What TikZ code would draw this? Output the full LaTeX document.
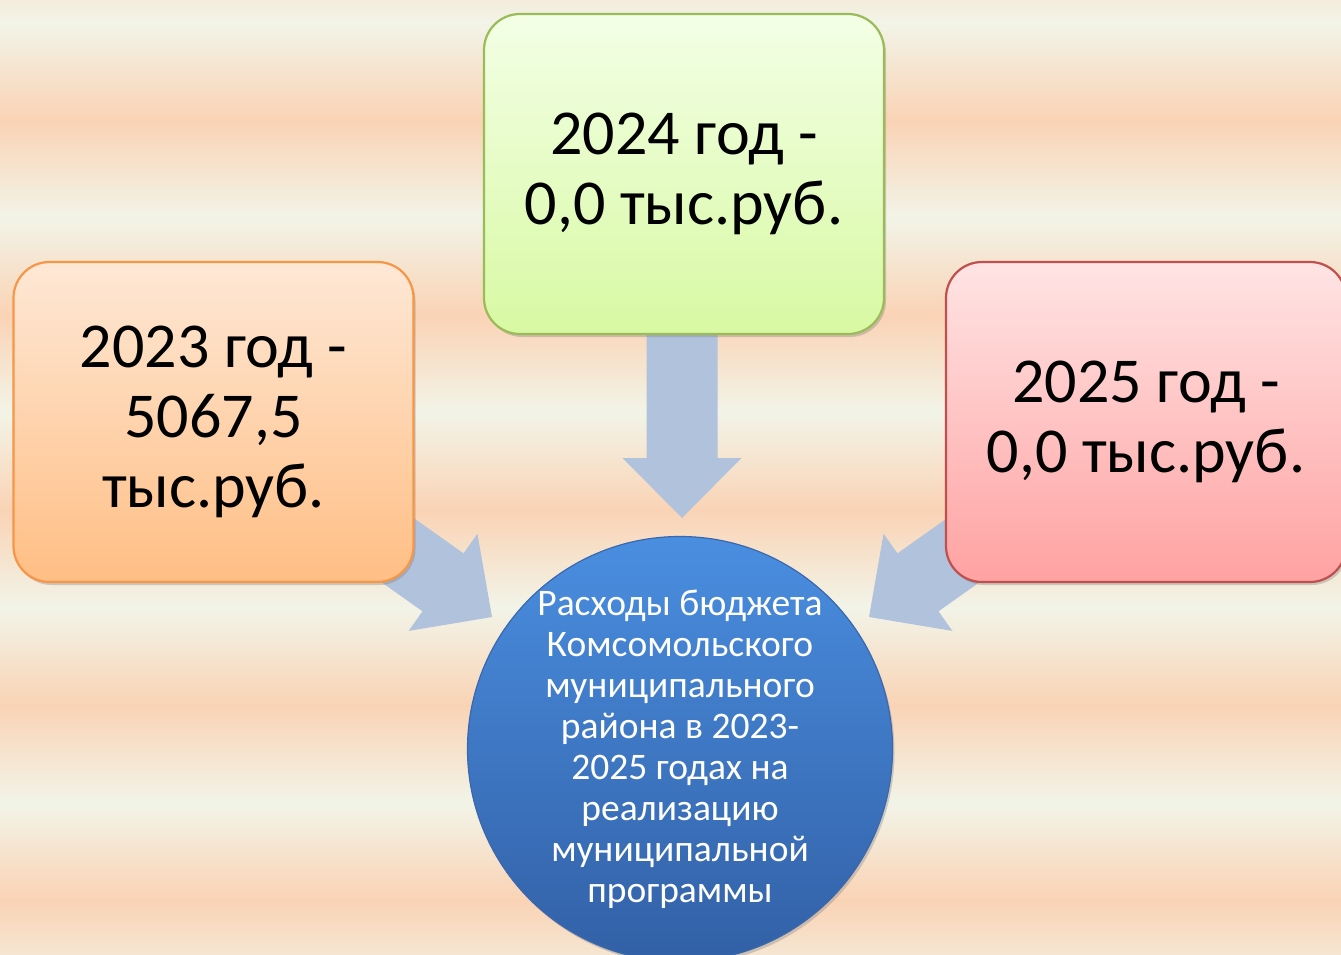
\documentclass[tikz,border=0pt]{standalone}
\usepackage{fontspec}
\setmainfont{Carlito}
\usetikzlibrary{shadows}
\definecolor{bglight}{HTML}{F2F4E8}
\definecolor{bgpeach}{HTML}{FAD3B5}
\definecolor{arrowcol}{HTML}{B0C2DC}
\definecolor{orbord}{HTML}{F79646}
\definecolor{ortop}{HTML}{FEE8D6}
\definecolor{orbot}{HTML}{FFBE84}
\definecolor{grbord}{HTML}{9BBB59}
\definecolor{grtop}{HTML}{F3FFE6}
\definecolor{grbot}{HTML}{D8F9A3}
\definecolor{rdbord}{HTML}{C0504D}
\definecolor{rdtop}{HTML}{FFE4E4}
\definecolor{rdbot}{HTML}{FFA2A2}
\definecolor{bltop}{HTML}{4A8EE0}
\definecolor{blbot}{HTML}{3260A6}
\definecolor{blbord}{HTML}{3A68AE}
\tikzset{
  yearbox/.style={rounded corners=36pt, line width=2.2pt, minimum width=400pt,
    minimum height=320pt, align=center, text=black,
    font=\fontsize{64}{70}\selectfont,
    drop shadow={shadow xshift=2pt, shadow yshift=-3pt, opacity=0.35}},
  blockarrow/.style={fill=arrowcol},
  hub/.style={circle, minimum size=425pt, inner sep=0pt, line width=1.2pt, draw=blbord,
    top color=bltop, bottom color=blbot,
    drop shadow={shadow xshift=2pt, shadow yshift=-3pt, opacity=0.35}},
  hubtext/.style={text=white, align=center, inner sep=0pt,
    font=\fontsize{37.5}{41}\selectfont}
}
\newcommand{\blockarr}[3]{% tip, angle, length
  \fill[blockarrow, shift={#1}, rotate=#2]
    (0,0) -- (-60,59.5) -- (-60,35.5) -- (-#3,35.5) -- (-#3,-35.5)
    -- (-60,-35.5) -- (-60,-59.5) -- cycle;}
\begin{document}
\begin{tikzpicture}[x=1pt,y=-1pt]
\useasboundingbox (0,0) rectangle (1341,955);
\clip (0,0) rectangle (1341,955);
% background stripes
\foreach \k in {-1,0,1,2,3,4,5} {
  \pgfmathsetmacro{\a}{22+195*\k}
  \pgfmathsetmacro{\b}{120+195*\k}
  \pgfmathsetmacro{\c}{217+195*\k}
  \shade[top color=bglight, bottom color=bgpeach] (-1,\a) rectangle (1342,\b+0.5);
  \shade[top color=bgpeach, bottom color=bglight] (-1,\b) rectangle (1342,\c+0.5);
}
% block arrows
\coordinate (tipL) at (492,617);
\coordinate (tipM) at (682,518);
\coordinate (tipR) at (869,617);
\blockarr{(tipM)}{-90}{190}
\blockarr{(tipL)}{-35.3}{200}
\blockarr{(tipR)}{-144.7}{200}
% boxes
\node[yearbox, draw=orbord, top color=ortop, bottom color=orbot] (y2023) at (213.5,422)
  {2023 год -\\5067,5\\тыс.руб.};
\node[yearbox, draw=grbord, top color=grtop, bottom color=grbot] (y2024) at (684,174)
  {2024 год -\\0,0 тыс.руб.};
\node[yearbox, draw=rdbord, top color=rdtop, bottom color=rdbot] (y2025) at (1146,422)
  {2025 год -\\0,0 тыс.руб.};
% hub
\node[hub] (hub) at (680,749) {};
\node[hubtext] (hubtxt) at (hub.center)
  {Расходы бюджета\\Комсомольского\\муниципального\\района в 2023-\\2025 годах на\\реализацию\\муниципальной\\программы};
\end{tikzpicture}
\end{document}
